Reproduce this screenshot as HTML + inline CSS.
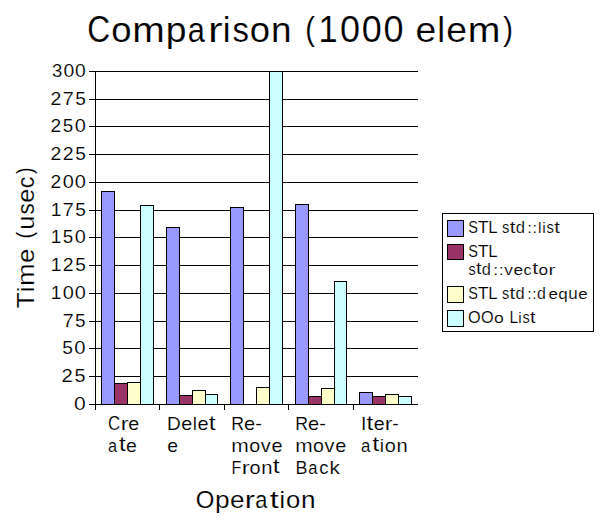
<!DOCTYPE html>
<html><head><meta charset="utf-8"><title>Comparison (1000 elem)</title><style>
html,body{margin:0;padding:0;background:#fff;}
body{width:603px;height:526px;overflow:hidden;position:relative;}
svg{position:absolute;left:0;top:0;}
text{font-family:"Liberation Sans", sans-serif;fill:#000;stroke:#fff;stroke-width:0.15px;}
</style></head><body>
<svg width="603" height="526" viewBox="0 0 603 526">
<g stroke="#000" stroke-width="1" fill="none">
<line x1="89" y1="71.5" x2="418" y2="71.5"/>
<line x1="89" y1="99.5" x2="418" y2="99.5"/>
<line x1="89" y1="126.5" x2="418" y2="126.5"/>
<line x1="89" y1="154.5" x2="418" y2="154.5"/>
<line x1="89" y1="182.5" x2="418" y2="182.5"/>
<line x1="89" y1="210.5" x2="418" y2="210.5"/>
<line x1="89" y1="237.5" x2="418" y2="237.5"/>
<line x1="89" y1="265.5" x2="418" y2="265.5"/>
<line x1="89" y1="293.5" x2="418" y2="293.5"/>
<line x1="89" y1="321.5" x2="418" y2="321.5"/>
<line x1="89" y1="348.5" x2="418" y2="348.5"/>
<line x1="89" y1="376.5" x2="418" y2="376.5"/>
<line x1="89" y1="404.5" x2="418" y2="404.5"/>
<line x1="95.5" y1="71" x2="95.5" y2="410"/>
<line x1="159.5" y1="404" x2="159.5" y2="410"/>
<line x1="224.5" y1="404" x2="224.5" y2="410"/>
<line x1="288.5" y1="404" x2="288.5" y2="410"/>
<line x1="353.5" y1="404" x2="353.5" y2="410"/>
</g>
<g stroke="#000" stroke-width="1">
<rect x="101.5" y="191.5" width="13" height="213" fill="#9999ff"/>
<rect x="114.5" y="383.5" width="13" height="21" fill="#993366"/>
<rect x="127.5" y="382.5" width="13" height="22" fill="#ffffcc"/>
<rect x="140.5" y="205.5" width="13" height="199" fill="#ccffff"/>
<rect x="166.5" y="227.5" width="13" height="177" fill="#9999ff"/>
<rect x="179.5" y="395.5" width="13" height="9" fill="#993366"/>
<rect x="192.5" y="390.5" width="13" height="14" fill="#ffffcc"/>
<rect x="205.5" y="394.5" width="12" height="10" fill="#ccffff"/>
<rect x="230.5" y="207.5" width="13" height="197" fill="#9999ff"/>
<rect x="256.5" y="387.5" width="13" height="17" fill="#ffffcc"/>
<rect x="269.5" y="71.5" width="13" height="333" fill="#ccffff"/>
<rect x="295.5" y="204.5" width="13" height="200" fill="#9999ff"/>
<rect x="308.5" y="396.5" width="13" height="8" fill="#993366"/>
<rect x="321.5" y="388.5" width="13" height="16" fill="#ffffcc"/>
<rect x="334.5" y="281.5" width="12" height="123" fill="#ccffff"/>
<rect x="359.5" y="392.5" width="13" height="12" fill="#9999ff"/>
<rect x="372.5" y="396.5" width="13" height="8" fill="#993366"/>
<rect x="385.5" y="394.5" width="13" height="10" fill="#ffffcc"/>
<rect x="398.5" y="396.5" width="13" height="8" fill="#ccffff"/>
</g>
<rect x="442.5" y="213.5" width="151" height="118" fill="#fff" stroke="#000" stroke-width="1"/>
<rect x="447.5" y="220.5" width="16" height="16" fill="#9999ff" stroke="#000" stroke-width="1"/>
<rect x="447.5" y="244.5" width="16" height="15" fill="#993366" stroke="#000" stroke-width="1"/>
<rect x="447.5" y="286.5" width="16" height="16" fill="#ffffcc" stroke="#000" stroke-width="1"/>
<rect x="447.5" y="310.5" width="16" height="16" fill="#ccffff" stroke="#000" stroke-width="1"/>
<g>
<text font-size="36" transform="translate(87.18 41.93) scale(0.883 1.008)">C</text>
<text font-size="36" transform="translate(111.16 41.93) scale(1.012 0.989)">o</text>
<text font-size="36" transform="translate(132.28 41.80) scale(1.084 0.983)">m</text>
<text font-size="36" transform="translate(165.85 41.60) scale(1.035 0.973)">p</text>
<text font-size="36" transform="translate(187.63 41.93) scale(0.856 0.989)">a</text>
<text font-size="36" transform="translate(208.08 41.80) scale(1.219 0.983)">r</text>
<text font-size="36" transform="translate(222.85 41.80) scale(0.973 0.990)">i</text>
<text font-size="36" transform="translate(232.43 41.93) scale(0.912 0.992)">s</text>
<text font-size="36" transform="translate(249.70 41.93) scale(1.012 0.989)">o</text>
<text font-size="36" transform="translate(270.95 41.80) scale(1.026 0.983)">n</text>
<text font-size="36" transform="translate(305.21 39.55) scale(0.802 0.902)">(</text>
<text font-size="36" transform="translate(318.53 41.80) scale(0.956 1.000)">1</text>
<text font-size="36" transform="translate(339.98 41.93) scale(1.001 1.008)">0</text>
<text font-size="36" transform="translate(361.73 41.93) scale(1.001 1.008)">0</text>
<text font-size="36" transform="translate(383.47 41.93) scale(1.001 1.008)">0</text>
<text font-size="36" transform="translate(415.42 41.93) scale(1.035 0.989)">e</text>
<text font-size="36" transform="translate(437.19 41.80) scale(0.979 0.990)">l</text>
<text font-size="36" transform="translate(446.22 41.93) scale(1.035 0.989)">e</text>
<text font-size="36" transform="translate(467.64 41.80) scale(1.091 0.983)">m</text>
<text font-size="36" transform="translate(503.30 39.55) scale(0.810 0.902)">)</text>
<text font-size="24" transform="translate(195.67 507.78) scale(0.997 1.008)">O</text>
<text font-size="24" transform="translate(214.99 507.57) scale(1.097 0.973)">p</text>
<text font-size="24" transform="translate(230.07 507.79) scale(1.089 0.989)">e</text>
<text font-size="24" transform="translate(244.87 507.70) scale(1.292 0.983)">r</text>
<text font-size="24" transform="translate(255.21 507.79) scale(0.907 0.989)">a</text>
<text font-size="24" transform="translate(269.67 507.51) scale(1.347 1.013)">t</text>
<text font-size="24" transform="translate(279.62 507.70) scale(1.031 0.990)">i</text>
<text font-size="24" transform="translate(285.97 507.79) scale(1.072 0.989)">o</text>
<text font-size="24" transform="translate(300.99 507.70) scale(1.087 0.983)">n</text>
<text font-size="19.2" transform="translate(107.94 429.77) scale(0.883 1.008)">C</text>
<text font-size="19.2" transform="translate(120.63 429.70) scale(1.219 0.983)">r</text>
<text font-size="19.2" transform="translate(128.21 429.77) scale(1.027 0.989)">e</text>
<text font-size="19.2" transform="translate(108.11 451.67) scale(0.845 0.989)">a</text>
<text font-size="19.2" transform="translate(118.90 451.45) scale(1.257 1.013)">t</text>
<text font-size="19.2" transform="translate(126.02 451.67) scale(1.015 0.989)">e</text>
<text font-size="19.2" transform="translate(167.04 429.70) scale(0.992 1.000)">D</text>
<text font-size="19.2" transform="translate(181.14 429.77) scale(1.035 0.989)">e</text>
<text font-size="19.2" transform="translate(192.75 429.70) scale(0.980 0.990)">l</text>
<text font-size="19.2" transform="translate(197.57 429.77) scale(1.035 0.989)">e</text>
<text font-size="19.2" transform="translate(208.85 429.55) scale(1.281 1.013)">t</text>
<text font-size="19.2" transform="translate(167.28 451.67) scale(1.010 0.989)">e</text>
<text font-size="19.2" transform="translate(231.24 429.70) scale(0.925 1.000)">R</text>
<text font-size="19.2" transform="translate(243.95 429.77) scale(1.045 0.989)">e</text>
<text font-size="19.2" transform="translate(255.22 429.67) scale(1.043 0.968)">-</text>
<text font-size="19.2" transform="translate(231.30 451.60) scale(1.095 0.983)">m</text>
<text font-size="19.2" transform="translate(249.20 451.67) scale(1.022 0.989)">o</text>
<text font-size="19.2" transform="translate(260.78 451.60) scale(1.038 0.977)">v</text>
<text font-size="19.2" transform="translate(271.40 451.67) scale(1.039 0.989)">e</text>
<text font-size="19.2" transform="translate(231.38 473.60) scale(0.837 1.000)">F</text>
<text font-size="19.2" transform="translate(241.75 473.60) scale(1.251 0.983)">r</text>
<text font-size="19.2" transform="translate(249.55 473.67) scale(1.038 0.989)">o</text>
<text font-size="19.2" transform="translate(261.18 473.60) scale(1.053 0.983)">n</text>
<text font-size="19.2" transform="translate(272.82 473.45) scale(1.305 1.013)">t</text>
<text font-size="19.2" transform="translate(295.25 429.70) scale(0.922 1.000)">R</text>
<text font-size="19.2" transform="translate(307.91 429.77) scale(1.041 0.989)">e</text>
<text font-size="19.2" transform="translate(319.14 429.67) scale(1.039 0.968)">-</text>
<text font-size="19.2" transform="translate(295.31 451.60) scale(1.089 0.983)">m</text>
<text font-size="19.2" transform="translate(313.10 451.67) scale(1.016 0.989)">o</text>
<text font-size="19.2" transform="translate(324.61 451.60) scale(1.031 0.977)">v</text>
<text font-size="19.2" transform="translate(335.16 451.67) scale(1.032 0.989)">e</text>
<text font-size="19.2" transform="translate(295.43 473.60) scale(0.935 1.000)">B</text>
<text font-size="19.2" transform="translate(308.17 473.67) scale(0.866 0.989)">a</text>
<text font-size="19.2" transform="translate(319.32 473.67) scale(0.966 0.989)">c</text>
<text font-size="19.2" transform="translate(329.54 473.60) scale(1.076 0.990)">k</text>
<text font-size="19.2" transform="translate(360.92 429.70) scale(1.006 1.000)">I</text>
<text font-size="19.2" transform="translate(366.42 429.55) scale(1.271 1.013)">t</text>
<text font-size="19.2" transform="translate(373.63 429.77) scale(1.027 0.989)">e</text>
<text font-size="19.2" transform="translate(384.80 429.70) scale(1.219 0.983)">r</text>
<text font-size="19.2" transform="translate(392.22 429.67) scale(1.025 0.968)">-</text>
<text font-size="19.2" transform="translate(360.99 451.67) scale(0.876 0.989)">a</text>
<text font-size="19.2" transform="translate(372.17 451.45) scale(1.303 1.013)">t</text>
<text font-size="19.2" transform="translate(379.86 451.60) scale(0.996 0.990)">i</text>
<text font-size="19.2" transform="translate(384.78 451.67) scale(1.036 0.989)">o</text>
<text font-size="19.2" transform="translate(396.39 451.60) scale(1.051 0.983)">n</text>
<text font-size="15.7" transform="translate(468.14 232.86) scale(0.928 1.008)">S</text>
<text font-size="15.7" transform="translate(477.65 232.80) scale(1.135 1.000)">T</text>
<text font-size="15.7" transform="translate(488.31 232.80) scale(1.071 1.000)">L</text>
<text font-size="15.7" transform="translate(501.99 232.86) scale(0.936 0.992)">s</text>
<text font-size="15.7" transform="translate(509.66 232.68) scale(1.305 1.013)">t</text>
<text font-size="15.7" transform="translate(515.71 232.86) scale(1.061 0.995)">d</text>
<text font-size="15.7" transform="translate(527.37 232.80) scale(1.064 0.924)">:</text>
<text font-size="15.7" transform="translate(532.58 232.80) scale(1.064 0.924)">:</text>
<text font-size="15.7" transform="translate(537.89 232.80) scale(1.005 0.990)">l</text>
<text font-size="15.7" transform="translate(542.18 232.80) scale(1.005 0.990)">i</text>
<text font-size="15.7" transform="translate(546.50 232.86) scale(0.943 0.992)">s</text>
<text font-size="15.7" transform="translate(554.22 232.68) scale(1.314 1.013)">t</text>
<text font-size="15.7" transform="translate(468.14 256.56) scale(0.928 1.008)">S</text>
<text font-size="15.7" transform="translate(477.65 256.50) scale(1.135 1.000)">T</text>
<text font-size="15.7" transform="translate(488.31 256.50) scale(1.071 1.000)">L</text>
<text font-size="15.7" transform="translate(468.40 274.66) scale(0.918 0.992)">s</text>
<text font-size="15.7" transform="translate(475.92 274.48) scale(1.280 1.013)">t</text>
<text font-size="15.7" transform="translate(481.86 274.66) scale(1.041 0.995)">d</text>
<text font-size="15.7" transform="translate(493.31 274.60) scale(1.109 0.924)">:</text>
<text font-size="15.7" transform="translate(498.73 274.60) scale(1.109 0.924)">:</text>
<text font-size="15.7" transform="translate(504.28 274.60) scale(1.106 0.977)">v</text>
<text font-size="15.7" transform="translate(513.53 274.66) scale(1.107 0.989)">e</text>
<text font-size="15.7" transform="translate(523.48 274.66) scale(1.028 0.989)">c</text>
<text font-size="15.7" transform="translate(532.24 274.48) scale(1.370 1.013)">t</text>
<text font-size="15.7" transform="translate(538.61 274.66) scale(1.090 0.989)">o</text>
<text font-size="15.7" transform="translate(548.38 274.60) scale(1.313 0.983)">r</text>
<text font-size="15.7" transform="translate(468.14 298.76) scale(0.928 1.008)">S</text>
<text font-size="15.7" transform="translate(477.65 298.70) scale(1.135 1.000)">T</text>
<text font-size="15.7" transform="translate(488.31 298.70) scale(1.071 1.000)">L</text>
<text font-size="15.7" transform="translate(502.00 298.76) scale(0.923 0.992)">s</text>
<text font-size="15.7" transform="translate(509.55 298.58) scale(1.286 1.013)">t</text>
<text font-size="15.7" transform="translate(515.52 298.76) scale(1.046 0.995)">d</text>
<text font-size="15.7" transform="translate(527.25 298.70) scale(1.008 0.924)">:</text>
<text font-size="15.7" transform="translate(532.18 298.70) scale(1.008 0.924)">:</text>
<text font-size="15.7" transform="translate(536.98 298.76) scale(1.013 0.995)">d</text>
<text font-size="15.7" transform="translate(548.58 298.76) scale(1.082 0.989)">e</text>
<text font-size="15.7" transform="translate(558.26 298.61) scale(1.088 0.972)">q</text>
<text font-size="15.7" transform="translate(568.33 298.76) scale(1.080 1.007)">u</text>
<text font-size="15.7" transform="translate(578.21 298.76) scale(1.082 0.989)">e</text>
<text font-size="15.7" transform="translate(468.03 322.86) scale(1.038 1.008)">O</text>
<text font-size="15.7" transform="translate(481.00 322.86) scale(1.038 1.008)">O</text>
<text font-size="15.7" transform="translate(493.99 322.86) scale(1.116 0.989)">o</text>
<text font-size="15.7" transform="translate(509.62 322.80) scale(0.991 1.000)">L</text>
<text font-size="15.7" transform="translate(518.24 322.80) scale(0.985 0.990)">i</text>
<text font-size="15.7" transform="translate(522.46 322.86) scale(0.924 0.992)">s</text>
<text font-size="15.7" transform="translate(530.03 322.68) scale(1.288 1.013)">t</text>
<text font-size="19" transform="translate(51.99 77.07) scale(0.974 1.008)">3</text>
<text font-size="19" transform="translate(63.40 77.07) scale(1.015 1.008)">0</text>
<text font-size="19" transform="translate(75.03 77.07) scale(1.015 1.008)">0</text>
<text font-size="19" transform="translate(50.52 105.00) scale(1.025 1.003)">2</text>
<text font-size="19" transform="translate(62.85 105.00) scale(1.040 1.000)">7</text>
<text font-size="19" transform="translate(75.20 105.07) scale(1.003 1.005)">5</text>
<text font-size="19" transform="translate(50.53 132.00) scale(1.013 1.003)">2</text>
<text font-size="19" transform="translate(62.87 132.07) scale(0.992 1.005)">5</text>
<text font-size="19" transform="translate(74.68 132.07) scale(1.051 1.008)">0</text>
<text font-size="19" transform="translate(50.52 160.00) scale(1.025 1.003)">2</text>
<text font-size="19" transform="translate(62.71 160.00) scale(1.025 1.003)">2</text>
<text font-size="19" transform="translate(75.20 160.07) scale(1.003 1.005)">5</text>
<text font-size="19" transform="translate(50.53 188.00) scale(1.013 1.003)">2</text>
<text font-size="19" transform="translate(62.63 188.07) scale(1.051 1.008)">0</text>
<text font-size="19" transform="translate(74.68 188.07) scale(1.051 1.008)">0</text>
<text font-size="19" transform="translate(50.73 216.00) scale(1.016 1.000)">1</text>
<text font-size="19" transform="translate(62.85 216.00) scale(1.040 1.000)">7</text>
<text font-size="19" transform="translate(75.20 216.07) scale(1.004 1.005)">5</text>
<text font-size="19" transform="translate(50.75 243.00) scale(1.003 1.000)">1</text>
<text font-size="19" transform="translate(62.87 243.07) scale(0.991 1.005)">5</text>
<text font-size="19" transform="translate(74.68 243.07) scale(1.050 1.008)">0</text>
<text font-size="19" transform="translate(50.73 271.00) scale(1.016 1.000)">1</text>
<text font-size="19" transform="translate(62.71 271.00) scale(1.025 1.003)">2</text>
<text font-size="19" transform="translate(75.20 271.07) scale(1.004 1.005)">5</text>
<text font-size="19" transform="translate(50.75 299.00) scale(1.003 1.000)">1</text>
<text font-size="19" transform="translate(62.63 299.07) scale(1.050 1.008)">0</text>
<text font-size="19" transform="translate(74.68 299.07) scale(1.050 1.008)">0</text>
<text font-size="19" transform="translate(62.69 327.00) scale(1.033 1.000)">7</text>
<text font-size="19" transform="translate(74.96 327.07) scale(0.997 1.005)">5</text>
<text font-size="19" transform="translate(62.13 354.07) scale(1.011 1.005)">5</text>
<text font-size="19" transform="translate(74.17 354.07) scale(1.071 1.008)">0</text>
<text font-size="19" transform="translate(61.58 382.00) scale(1.063 1.003)">2</text>
<text font-size="19" transform="translate(74.53 382.07) scale(1.041 1.005)">5</text>
<text font-size="19" transform="translate(74.07 410.07) scale(1.112 1.008)">0</text>
<text font-size="24" transform="translate(33.90 308.18) rotate(-90) scale(1.082 1.000)">T</text>
<text font-size="24" transform="translate(33.90 292.37) rotate(-90) scale(1.014 0.990)">i</text>
<text font-size="24" transform="translate(33.90 286.01) rotate(-90) scale(1.130 0.983)">m</text>
<text font-size="24" transform="translate(33.99 262.96) rotate(-90) scale(1.071 0.989)">e</text>
<text font-size="24" transform="translate(32.40 238.43) rotate(-90) scale(0.825 0.902)">(</text>
<text font-size="24" transform="translate(33.98 229.72) rotate(-90) scale(1.052 1.007)">u</text>
<text font-size="24" transform="translate(33.99 214.58) rotate(-90) scale(0.936 0.992)">s</text>
<text font-size="24" transform="translate(33.99 202.80) rotate(-90) scale(1.054 0.989)">e</text>
<text font-size="24" transform="translate(33.99 188.31) rotate(-90) scale(0.979 0.989)">c</text>
<text font-size="24" transform="translate(32.40 173.97) rotate(-90) scale(0.825 0.902)">)</text>
</g>
</svg></body></html>
